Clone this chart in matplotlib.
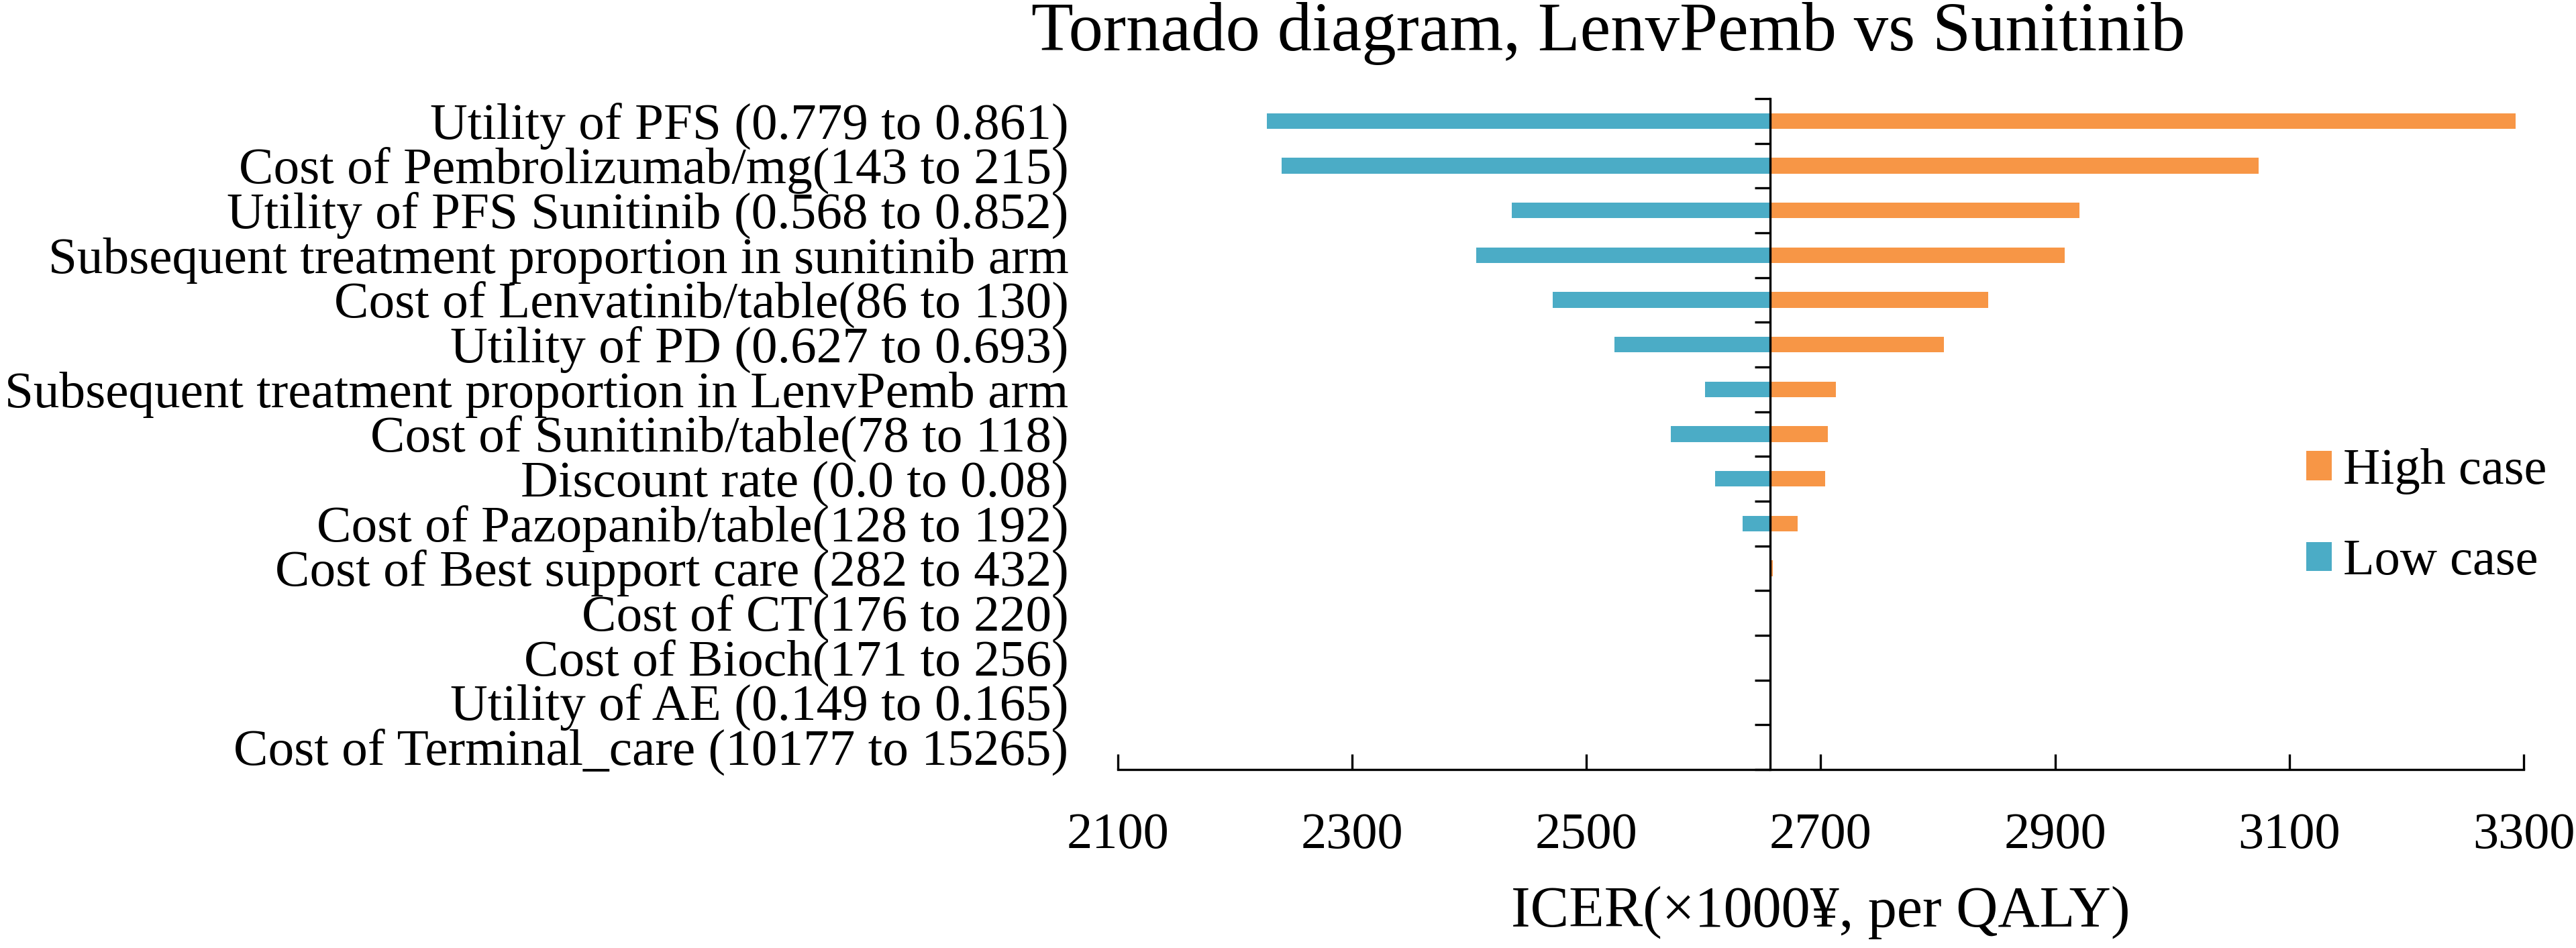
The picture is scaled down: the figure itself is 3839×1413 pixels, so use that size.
import matplotlib
matplotlib.use("Agg")
import matplotlib.pyplot as plt
import numpy as np

plt.rcParams['font.family'] = ['Liberation Serif', 'DejaVu Serif']

title = "Tornado diagram, LenvPemb vs Sunitinib"
xlabel = "ICER(×1000¥, per QALY)"
parameters = [
    "Utility of PFS (0.779 to 0.861)",
    "Cost of Pembrolizumab/mg(143 to 215)",
    "Utility of PFS Sunitinib (0.568 to 0.852)",
    "Subsequent treatment proportion in sunitinib arm",
    "Cost of Lenvatinib/table(86 to 130)",
    "Utility of PD (0.627 to 0.693)",
    "Subsequent treatment proportion in LenvPemb arm",
    "Cost of Sunitinib/table(78 to 118)",
    "Discount rate (0.0 to 0.08)",
    "Cost of Pazopanib/table(128 to 192)",
    "Cost of Best support care (282 to 432)",
    "Cost of CT(176 to 220)",
    "Cost of Bioch(171 to 256)",
    "Utility of AE (0.149 to 0.165)",
    "Cost of Terminal_care (10177 to 15265)",
]
base_icer = 2657
low_case = [2227, 2240, 2436, 2406, 2471, 2524, 2601, 2572, 2610, 2633, 2657, 2657, 2657, 2657, 2657]
high_case = [3293, 3074, 2921, 2908, 2843, 2805, 2713, 2706, 2704, 2680, 2659, 2657, 2657, 2657, 2657]
xticks = [2100, 2300, 2500, 2700, 2900, 3100, 3300]

blue = "#4BACC6"
orange = "#F79646"

W, H = 3839, 1413
dpi = 100
fig = plt.figure(figsize=(W / dpi, H / dpi), dpi=dpi)
ax = fig.add_axes([1666 / W, 1 - 1147 / H, (3761 - 1666) / W, 1000 / H])

y = np.arange(len(parameters))
low = np.array(low_case, dtype=float)
high = np.array(high_case, dtype=float)
ax.barh(y, high - base_icer, left=base_icer, height=0.35, color=orange, label="High case", zorder=2)
ax.barh(y, low - base_icer, left=base_icer, height=0.35, color=blue, label="Low case", zorder=2)

ax.set_xlim(xticks[0], xticks[-1])
ax.set_ylim(len(parameters) - 0.5, -0.5)
ax.set_xticks(xticks)
ax.set_yticks(y)
ax.set_yticklabels(parameters)
ax.set_yticks(np.arange(len(parameters) + 1) - 0.5, minor=True)

lw = 2.4
for s in ['top', 'left']:
    ax.spines[s].set_visible(False)
ax.spines['bottom'].set_linewidth(lw)
ax.spines['right'].set_linewidth(lw)
ax.spines['right'].set_position(('data', base_icer))
ax.spines['right'].set_zorder(3)

ax.tick_params(axis='x', direction='in', length=16.5, width=lw, labelsize=55, pad=46)
ax.tick_params(axis='y', which='major', left=True, right=False, length=0, labelsize=55.6, pad=53)
ax.tick_params(axis='y', which='minor', left=False, right=True, direction='in', length=16.5, width=lw)

ax.set_xlabel(xlabel, fontsize=62)
ax.xaxis.set_label_coords(0.5, -0.173)

fig.text(2397 / W, 1 - 75 / H, title, ha='center', va='baseline', fontsize=74)

handles, labels = ax.get_legend_handles_labels()
fig.legend(handles, labels, loc='upper left', bbox_to_anchor=(3437 / W, 1 - 668 / H),
           frameon=False, fontsize=55, handlelength=0.5, handleheight=0.5,
           handletextpad=0.22, labelspacing=0.87, borderpad=0, borderaxespad=0)

fig.savefig("out.png", dpi=dpi)
